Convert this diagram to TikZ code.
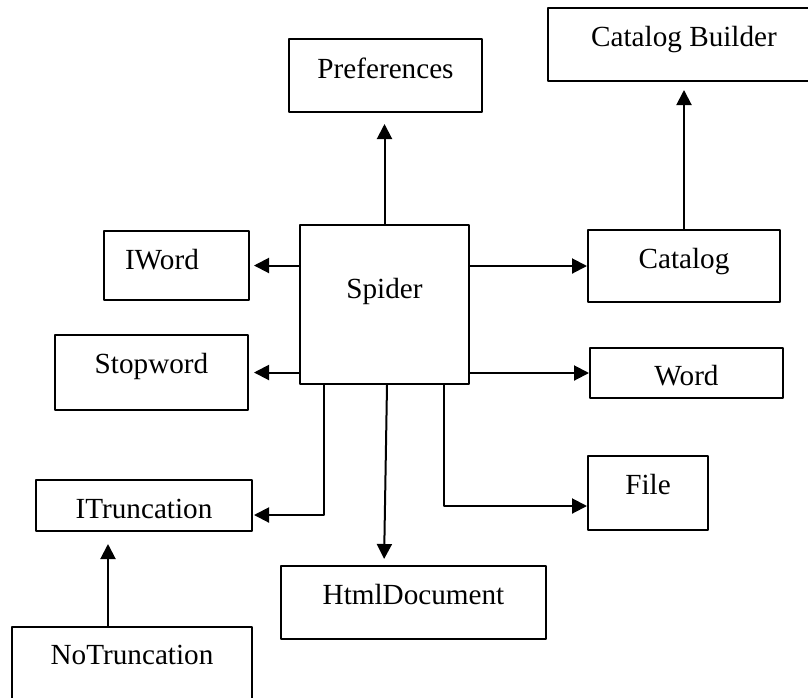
\documentclass[tikz,border=0pt]{standalone}
\usepackage{fontspec}
\setmainfont{Liberation Serif}
\usepackage{tikz}
\usetikzlibrary{arrows.meta,positioning,calc}

\begin{document}
\begin{tikzpicture}[x=0.5pt,y=-0.5pt,>={Triangle[length=7.5pt,width=7.5pt]},line join=bevel,
  box/.style={draw,line width=1pt,inner sep=0pt,anchor=north west,font=\fontsize{14.6}{17}\selectfont},
  link/.style={->,line width=1pt}]
%%
\useasboundingbox (0,0) rectangle (808,697);
\node (CatBuilder) at (547,7) [box,minimum width=136pt,text height=19pt,text depth=17.5pt] {Catalog Builder};
  \node (Preferences) at (288,38) [box,minimum width=96.5pt,text height=19.5pt,text depth=17pt] {Preferences};
  \node (IWord) at (103,230) [box,inner xsep=10.5pt,text width=51.5pt,align=left,text height=19pt,text depth=15.5pt] {IWord};
  \node (Spider) at (299,224) [box,minimum width=84.5pt,text height=36.5pt,text depth=43pt] {Spider};
  \node (Stopword) at (54,334) [box,minimum width=96.5pt,text height=19pt,text depth=18.5pt] {Stopword};
  \node (Catalog) at (587,229) [box,minimum width=96pt,text height=19pt,text depth=17pt] {Catalog};
  \node (Word) at (589,347) [box,minimum width=96.5pt,text height=18.5pt,text depth=6.5pt] {Word};
  \node (File) at (587,455) [box,minimum width=60pt,text height=19pt,text depth=18pt] {File};
  \node (ITruncation) at (35,479) [box,minimum width=108pt,text height=19pt,text depth=6.5pt] {ITruncation};
  \node (HtmlDocument) at (280,565) [box,minimum width=132.5pt,text height=19pt,text depth=17.5pt] {HtmlDocument};
  \node (NoTruncation) at (11,626) [box,minimum width=120pt,text height=18.5pt,text depth=20pt] {NoTruncation};
  \draw [link,shorten >=5.5pt] (Spider.north) -- (Spider.north |- Preferences.south);
  \draw [link,shorten >=4pt] (Catalog.north) -- (Catalog.north |- CatBuilder.south);
  \draw [link,shorten >=2pt] (Spider.west |- IWord.east) -- (IWord.east);
  \draw [link,shorten >=2.5pt] (Spider.west |- Stopword.east) -- (Stopword.east);
  \draw [link] (Spider.east |- Catalog.west) -- (Catalog.west);
  \draw [link] (Spider.east |- Word.west) -- (Word.west);
  \draw [link] ($(Spider.south)+(29.75pt,0)$) |- ($(File.west)+(0,-6.5pt)$);
  \draw [link,shorten >=0.5pt] ($(Spider.south)+(-30.25pt,0)$) |- ($(ITruncation.east)+(0,-4.75pt)$);
  \draw [link,shorten >=3pt] ($(Spider.south)+(1.25pt,0)$) -- ($(HtmlDocument.north)+(-14.75pt,0)$);
  \draw [link,shorten >=6pt] ($(NoTruncation.north)+(-12pt,0)$) -- ($(NoTruncation.north |- ITruncation.south)+(-12pt,0)$);
%
\end{tikzpicture}
\end{document}
